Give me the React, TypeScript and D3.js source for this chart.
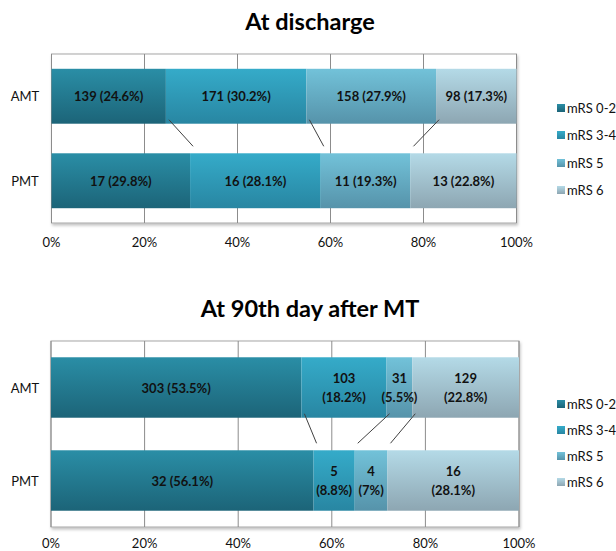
import React from "react";
import * as d3 from "d3";

const categories = ["AMT", "PMT"];
const seriesNames = ["mRS 0-2", "mRS 3-4", "mRS 5", "mRS 6"];
const tickValues = [0, 20, 40, 60, 80, 100];

const dischargeAMT = [139, 171, 158, 98];
const dischargeAMTPct = [24.6, 30.2, 27.9, 17.3];
const dischargePMT = [17, 16, 11, 13];
const dischargePMTPct = [29.8, 28.1, 19.3, 22.8];

const day90AMT = [303, 103, 31, 129];
const day90AMTPct = [53.5, 18.2, 5.5, 22.8];
const day90PMT = [32, 5, 4, 16];
const day90PMTPct = [56.1, 8.8, 7, 28.1];

const colorTop = ["#2a8ea6", "#35abc9", "#72c2d9", "#b4dae7"];
const colorBottom = ["#1c6478", "#2886a2", "#5693aa", "#8da6b2"];

const FONT = "Lato, 'Open Sans', sans-serif";

type Panel = {
  title: string;
  titleY: number;
  top: number;
  bottom: number;
  left: number;
  right: number;
  tickY: number;
  counts: number[][];
  pcts: number[][];
  twoLine: boolean;
  legendY: number[];
  idp: string;
};

function ChartPanel({ p }: { p: Panel }) {
  const x = d3.scaleLinear().domain([0, 100]).range([p.left, p.right]);
  const y = d3
    .scaleBand<string>()
    .domain(categories)
    .range([p.top, p.bottom])
    .paddingInner(0.35)
    .paddingOuter(0.175);
  const stacks = p.pcts.map((row) => {
    let acc = 0;
    return row.map((v) => {
      const s = acc;
      acc += v;
      return [s, acc];
    });
  });
  const bw = y.bandwidth();
  return (
    <g>
      <defs>
        {colorTop.map((c, i) => (
          <linearGradient key={i} id={`${p.idp}g${i}`} x1="0" y1="0" x2="0" y2="1">
            <stop offset="0" stopColor={c} />
            <stop offset="1" stopColor={colorBottom[i]} />
          </linearGradient>
        ))}
        <filter id={`${p.idp}sh`} x="-5%" y="-5%" width="110%" height="115%">
          <feDropShadow dx="1" dy="2" stdDeviation="1.5" floodColor="#000" floodOpacity="0.25" />
        </filter>
      </defs>
      <text
        x={310}
        y={p.titleY}
        textAnchor="middle"
        dominantBaseline="central"
        fontFamily={FONT}
        fontWeight="bold"
        fontSize={23.5}
        fill="#000"
      >
        {p.title}
      </text>
      <rect
        x={p.left}
        y={p.top}
        width={p.right - p.left}
        height={p.bottom - p.top}
        fill="#fff"
        stroke="#a6a6a6"
        strokeWidth={1}
        filter={`url(#${p.idp}sh)`}
      />
      {tickValues.map((t) => (
        <line key={t} x1={x(t)} x2={x(t)} y1={p.top} y2={p.bottom} stroke="#8c8c8c" strokeWidth={1} />
      ))}
      {categories.map((cat, ci) =>
        stacks[ci].map(([s, e], si) => (
          <rect
            key={cat + si}
            x={x(s)}
            y={y(cat)!}
            width={x(e) - x(s)}
            height={bw}
            fill={`url(#${p.idp}g${si})`}
          />
        ))
      )}
      {[0, 1, 2].map((si) => {
        const xa = x(stacks[0][si][1]) + 3;
        const xb = x(stacks[1][si][1]) + 3;
        const ya = y(categories[0])! + bw - 4;
        const yb = y(categories[1])! - 7;
        return <line key={si} x1={xa} y1={ya} x2={xb} y2={yb} stroke="#404040" strokeWidth={1} />;
      })}
      {categories.map((cat, ci) =>
        stacks[ci].map(([s, e], si) => {
          const cx = (x(s) + x(e)) / 2;
          const cy = y(cat)! + bw / 2;
          const cnt = p.counts[ci][si];
          const pc = p.pcts[ci][si];
          const common = {
            textAnchor: "middle" as const,
            fontFamily: FONT,
            fontWeight: "bold" as const,
            fontSize: 13,
            fill: "#111",
          };
          if (p.twoLine && si > 0) {
            return (
              <g key={cat + "l" + si}>
                <text x={cx} y={cy - 9.5} dominantBaseline="central" {...common}>
                  {cnt}
                </text>
                <text x={cx} y={cy + 9.5} dominantBaseline="central" {...common}>
                  {`(${pc}%)`}
                </text>
              </g>
            );
          }
          return (
            <text key={cat + "l" + si} x={cx} y={cy} dominantBaseline="central" {...common}>
              {`${cnt} (${pc}%)`}
            </text>
          );
        })
      )}
      {categories.map((cat) => (
        <text
          key={cat}
          x={25}
          y={y(cat)! + bw / 2}
          textAnchor="middle"
          dominantBaseline="central"
          fontFamily={FONT}
          fontSize={13}
          fill="#111"
        >
          {cat}
        </text>
      ))}
      {tickValues.map((t) => (
        <text
          key={"t" + t}
          x={x(t)}
          y={p.tickY}
          textAnchor="middle"
          dominantBaseline="central"
          fontFamily={FONT}
          fontSize={13}
          fill="#111"
        >
          {`${t}%`}
        </text>
      ))}
      {seriesNames.map((name, i) => (
        <g key={name}>
          <rect x={557} y={p.legendY[i] - 4} width={8} height={8} fill={`url(#${p.idp}g${i})`} />
          <text
            x={567}
            y={p.legendY[i]}
            dominantBaseline="central"
            fontFamily={FONT}
            fontSize={13}
            fill="#111"
          >
            {name}
          </text>
        </g>
      ))}
    </g>
  );
}

const panels: Panel[] = [
  {
    title: "At discharge",
    titleY: 21,
    top: 54,
    bottom: 223,
    left: 51.5,
    right: 516.5,
    tickY: 242,
    counts: [dischargeAMT, dischargePMT],
    pcts: [dischargeAMTPct, dischargePMTPct],
    twoLine: false,
    legendY: [108, 135, 163, 190],
    idp: "a",
  },
  {
    title: "At 90th day after MT",
    titleY: 308,
    top: 341,
    bottom: 527,
    left: 51,
    right: 519,
    tickY: 543,
    counts: [day90AMT, day90PMT],
    pcts: [day90AMTPct, day90PMTPct],
    twoLine: true,
    legendY: [404, 430, 456, 482],
    idp: "b",
  },
];

export default function App() {
  return (
    <svg
      width={616}
      height={551}
      style={{ position: "absolute", left: 0, top: 0, background: "#fff" }}
    >
      <rect width={616} height={551} fill="#fff" />
      {panels.map((p) => (
        <ChartPanel key={p.idp} p={p} />
      ))}
    </svg>
  );
}
